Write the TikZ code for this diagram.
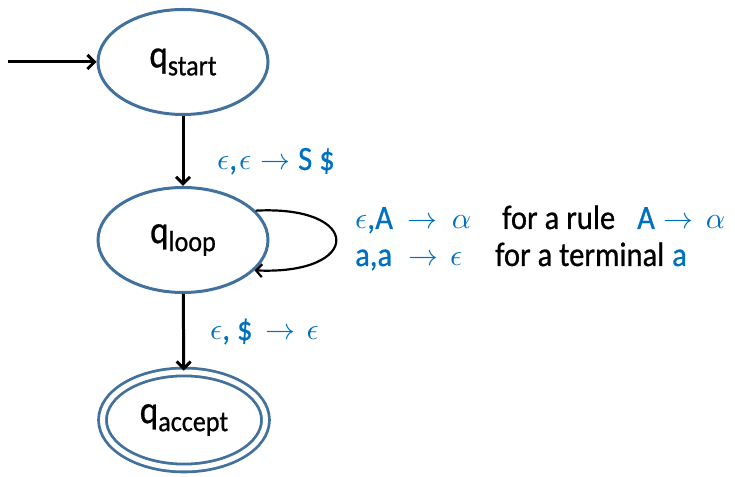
\documentclass[tikz,border=0pt]{standalone}
\usepackage{graphicx}
\usepackage{fontspec}
\setmainfont{Carlito}[FakeStretch=0.9,FakeBold=0.7]
\usetikzlibrary{arrows.meta,shapes.geometric}
\definecolor{lblue}{RGB}{0,112,192}
\definecolor{sedge}{RGB}{65,113,156}
\tikzset{
  state/.style={ellipse,draw=sedge,line width=3pt,inner sep=0pt,minimum width=170pt,minimum height=105pt,
    font=\fontsize{39}{40}\selectfont},
  accstate/.style={state,double=white,double distance=5pt,line width=2.8pt,minimum width=163pt,minimum height=96pt},
  trans/.style={line width=3pt,-{Straight Barb[length=7pt,width=14pt,line width=3pt]}},
  lbl/.style={text=lblue,font=\fontsize{34}{40}\selectfont,inner sep=0pt,anchor=base west},
  txt/.style={text=black,font=\fontsize{34}{40}\selectfont,inner sep=0pt,anchor=base west},
}
\newcommand{\qsub}[1]{q\raisebox{-8pt}{\fontsize{29}{30}\selectfont #1}}
\newcommand{\mb}[1]{\scalebox{3.0}{\fontsize{10}{12}\selectfont$#1$}}
\newcommand{\gap}[1]{\hspace*{#1pt}}
\begin{document}
\begin{tikzpicture}[x=1pt,y=1pt]
\useasboundingbox (0,0) rectangle (735,476);
\node[state] (start) at (183,414) {\qsub{start}};
\node[state] (loop) at (183,236) {\qsub{loop}};
\node[accstate] (accept) at (184,56) {\qsub{accept}};
\coordinate (init) at (8,414);
\draw[trans] (init) -- (start);
\draw[trans] (start) -- (loop);
\draw[trans] (loop) -- (accept);
\draw[line width=2.2pt,-{Straight Barb[length=6pt,width=13pt,line width=2.2pt]}] (loop.22) .. controls (363,271) and (363,201) .. (loop.-23);
\node[lbl] (l1) at (217,306) {\mb{\epsilon},\gap{2}\mb{\epsilon}\gap{9}\mb{\to}\gap{8}S\gap{7}\$};
\node[lbl] (l2a) at (355,247) {\mb{\epsilon},A\gap{15}\mb{\to}\gap{14}\mb{\alpha}};
\node[txt] (l2b) at (502,247) {for a rule};
\node[lbl] (l2c) at (637,247) {A\gap{9}\mb{\to}\gap{12}\mb{\alpha}};
\node[lbl] (l3a) at (355,210) {a,a\gap{16}\mb{\to}\gap{12}\mb{\epsilon}};
\node[txt] (l3b) at (495,210) {for a terminal};
\node[lbl] (l3c) at (672,210) {a};
\node[lbl] (l4) at (210,136) {\mb{\epsilon},\gap{7}\$\gap{13}\mb{\to}\gap{11}\mb{\epsilon}};
\end{tikzpicture}
\end{document}
